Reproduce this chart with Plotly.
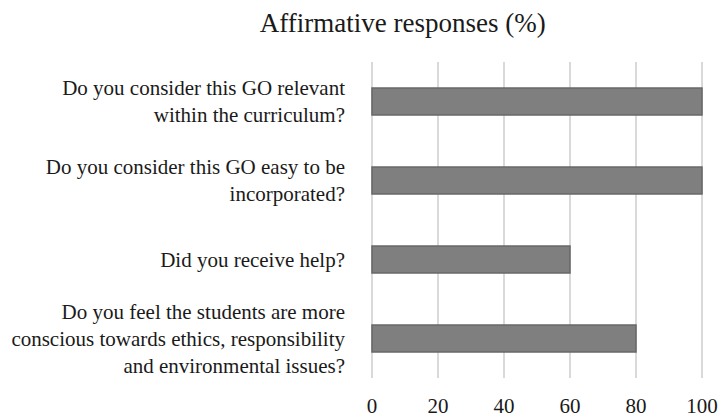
import plotly.graph_objects as go

categories = [
    "Do you consider this GO relevant<br>within the curriculum?",
    "Do you consider this GO easy to be<br>incorporated?",
    "Did you receive help?",
    "Do you feel the students are more<br>conscious towards ethics, responsibility<br>and environmental issues?",
]
values = [100, 100, 60, 80]
tick_vals = [0, 20, 40, 60, 80, 100]

fig = go.Figure(go.Bar(
    x=values, y=categories, orientation="h",
    marker=dict(color="#7f7f7f", line=dict(color="#686868", width=1.5)),
    width=0.34,
))

font = "Liberation Serif"
grid_color = "#d9d9d9"
fig.update_layout(
    width=723, height=418,
    margin=dict(l=370, r=19, t=62, b=40, autoexpand=False),
    paper_bgcolor="white", plot_bgcolor="white",
    font=dict(family=font, size=21, color="#1a1a1a"),
    title=dict(text="Affirmative responses (%)", x=0.557, xanchor="center",
               xref="container", y=0.947, yanchor="middle",
               font=dict(family=font, size=27, color="#1a1a1a")),
    showlegend=False,
)
fig.update_xaxes(range=[-0.6, 100.6], tickvals=tick_vals, showgrid=True,
                 gridcolor=grid_color, gridwidth=1.5, zeroline=False,
                 showline=False, ticks="outside", ticklen=9,
                 tickcolor="rgba(0,0,0,0)", automargin=False,
                 tickfont=dict(family=font, size=21, color="#1a1a1a"))
fig.update_yaxes(autorange="reversed", showgrid=False, zeroline=False,
                 showline=False, ticklabelstandoff=24, automargin=False,
                 tickfont=dict(family=font, size=21, color="#1a1a1a"))

fig.write_html("out.html")
